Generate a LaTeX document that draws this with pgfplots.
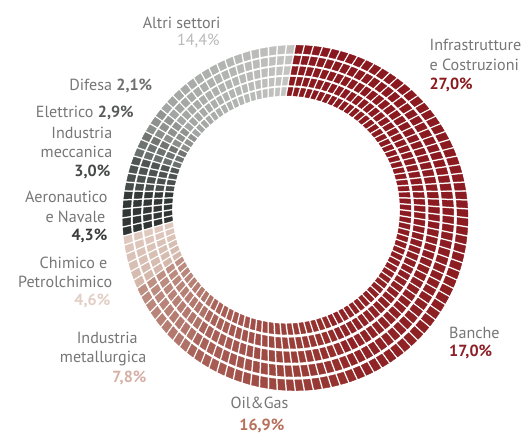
\documentclass[border=0pt]{standalone}
\usepackage{pgfplots}
\pgfplotsset{compat=1.18}
\usepgfplotslibrary{patchplots}
\usepackage{fontspec}
\setmainfont{PT Sans}

\definecolor{lbl}{RGB}{118,118,118}
\definecolor{pInfra}{RGB}{139,26,30}
\definecolor{pBanche}{RGB}{140,30,38}
\definecolor{pOil}{RGB}{184,112,92}
\definecolor{pMet}{RGB}{214,176,166}
\definecolor{pChim}{RGB}{226,206,196}
\definecolor{pAero}{RGB}{58,60,60}
\definecolor{pMecc}{RGB}{70,72,72}
\definecolor{pElet}{RGB}{88,90,90}
\definecolor{pDif}{RGB}{110,112,112}
\definecolor{pAltri}{RGB}{185,185,185}

\pgfplotsset{colormap={donut}{
 rgb255(0pt)=(137,25,30)   rgb255(19pt)=(139,27,32)
 rgb255(20pt)=(139,28,33)  rgb255(39pt)=(143,36,38)
 rgb255(40pt)=(146,42,40)  rgb255(59pt)=(170,102,92)
 rgb255(60pt)=(174,112,102) rgb255(79pt)=(192,146,134)
 rgb255(80pt)=(212,184,172) rgb255(99pt)=(224,202,192)
 rgb255(100pt)=(46,52,50)  rgb255(119pt)=(52,58,56)
 rgb255(120pt)=(70,76,74)  rgb255(139pt)=(80,86,83)
 rgb255(140pt)=(104,110,107) rgb255(159pt)=(114,119,116)
 rgb255(160pt)=(138,142,139) rgb255(179pt)=(146,149,146)
 rgb255(180pt)=(160,163,161) rgb255(199pt)=(196,197,195)
}}

% shares of the ten sectors, clockwise from the top
\newcommand\pcts{27.0,17.0,16.9,7.8,4.6,4.3,3.0,2.9,2.1,14.4}

% ring geometry (photographed page: inner circle off-centre)
\def\Cox{289.5}\def\Coy{224.5}\def\Ro{177}
\def\Cix{280}\def\Ciy{233}\def\Ri{117}
\def\gt{0.05}\def\wt{0.16}\def\hg{1.0}

\newcommand\mkpt[2]{%
  \pgfmathsetmacro\px{(1-#2)*(\Cix+\Ri*cos(#1))+#2*(\Cox+\Ro*cos(#1))}%
  \pgfmathsetmacro\py{(1-#2)*(\Ciy+\Ri*sin(#1))+#2*(\Coy+\Ro*sin(#1))}%
}

\begin{document}
% cumulative boundaries in degrees
\gdef\cum{0}
\expandafter\gdef\csname bnd0\endcsname{0}
\foreach \p [count=\i] in \pcts {%
  \pgfmathsetmacro\c{\cum+3.6*\p}%
  \xdef\cum{\c}%
  \expandafter\xdef\csname bnd\i\endcsname{\c}%
}
% tiles
\gdef\pts{}
\foreach \k in {0,...,119}{%
  \pgfmathsetmacro\al{3*\k+1.5}%
  \gdef\meta{0}%
  \foreach \i in {1,...,10}{%
    \edef\lo{\csname bnd\number\numexpr\i-1\relax\endcsname}%
    \edef\hi{\csname bnd\i\endcsname}%
    \pgfmathparse{and(\al>=\lo,\al<\hi)}%
    \ifdim\pgfmathresult pt>0.5pt
      \pgfmathsetmacro\mm{20*(\i-1)+19*(\al-\lo)/(\hi-\lo)}%
      \xdef\meta{\mm}%
    \fi
  }%
  \gdef\colpts{}%
  \foreach \b in {0,...,4}{%
    \pgfmathsetmacro\ta{\b*(\wt+\gt)}%
    \pgfmathsetmacro\tb{\ta+\wt}%
    \pgfmathsetmacro\ra{(1-\ta)*\Ri+\ta*\Ro}%
    \pgfmathsetmacro\rb{(1-\tb)*\Ri+\tb*\Ro}%
    \pgfmathsetmacro\da{\hg/\ra*57.2958}%
    \pgfmathsetmacro\db{\hg/\rb*57.2958}%
    \pgfmathsetmacro\aS{90-3*\k}%
    \pgfmathsetmacro\aE{\aS-3}%
    \pgfmathsetmacro\angA{\aS-\da}\mkpt{\angA}{\ta}\edef\pa{(\px,\py) [\meta]}%
    \pgfmathsetmacro\angA{\aE+\da}\mkpt{\angA}{\ta}\edef\pb{(\px,\py) [\meta]}%
    \pgfmathsetmacro\angA{\aE+\db}\mkpt{\angA}{\tb}\edef\pc{(\px,\py) [\meta]}%
    \pgfmathsetmacro\angA{\aS-\db}\mkpt{\angA}{\tb}\edef\pd{(\px,\py) [\meta]}%
    \xdef\colpts{\colpts \pa\space\pb\space\pc\space\pd\space}%
  }%
  \xdef\pts{\pts\colpts}%
}
\begin{tikzpicture}
\begin{axis}[name=ax, x=1bp, y=1bp, scale only axis, hide axis,
  xmin=0, xmax=525, ymin=0, ymax=448, clip=false,
  colormap name=donut, point meta min=0, point meta max=199]
\edef\doplot{\noexpand\addplot[patch, patch type=rectangle, shader=flat, point meta=explicit] coordinates {\pts};}
\doplot
\tikzset{lf/.style={font=\fontsize{16.5bp}{19bp}\selectfont, text=lbl, inner sep=0pt}}
\node[lf, anchor=base east] at (axis cs:213,419) {Altri settori};
\node[lf, anchor=base east, text=pAltri] at (axis cs:212,401) {14,4\%};
\node[lf, anchor=base east] at (axis cs:143,355) {Difesa \textcolor{pDif}{\textbf{2,1\%}}};
\node[lf, anchor=base east] at (axis cs:124,328) {Elettrico \textcolor{pElet}{\textbf{2,9\%}}};
\node[lf, anchor=base east] at (axis cs:102,306) {Industria};
\node[lf, anchor=base east] at (axis cs:102,286) {meccanica};
\node[lf, anchor=base east, text=pMecc] at (axis cs:100,267) {\textbf{3,0\%}};
\node[lf, anchor=base east] at (axis cs:97,240) {Aeronautico};
\node[lf, anchor=base east] at (axis cs:95,220) {e Navale};
\node[lf, anchor=base east, text=pAero] at (axis cs:97,201) {\textbf{4,3\%}};
\node[lf, anchor=base east] at (axis cs:97,173) {Chimico e};
\node[lf, anchor=base east] at (axis cs:102,153) {Petrolchimico};
\node[lf, anchor=base east, text=pChim] at (axis cs:100,135) {\textbf{4,6\%}};
\node[lf, anchor=base east] at (axis cs:128,96) {Industria};
\node[lf, anchor=base east] at (axis cs:137,76) {metallurgica};
\node[lf, anchor=base east, text=pMet] at (axis cs:137,56) {\textbf{7,8\%}};
\node[lf, anchor=base west] at (axis cs:223,29) {Oil\&Gas};
\node[lf, anchor=base west, text=pOil] at (axis cs:232,7) {\textbf{16,9\%}};
\node[lf, anchor=base west] at (axis cs:447,101) {Banche};
\node[lf, anchor=base west, text=pBanche] at (axis cs:447,82) {\textbf{17,0\%}};
\node[lf, anchor=base west] at (axis cs:427,396) {Infrastrutture};
\node[lf, anchor=base west] at (axis cs:427,376) {e Costruzioni};
\node[lf, anchor=base west, text=pInfra] at (axis cs:427,356) {\textbf{27,0\%}};
\end{axis}
\pgfresetboundingbox
\path (ax.south west) rectangle (ax.north east);
\end{tikzpicture}
\end{document}
